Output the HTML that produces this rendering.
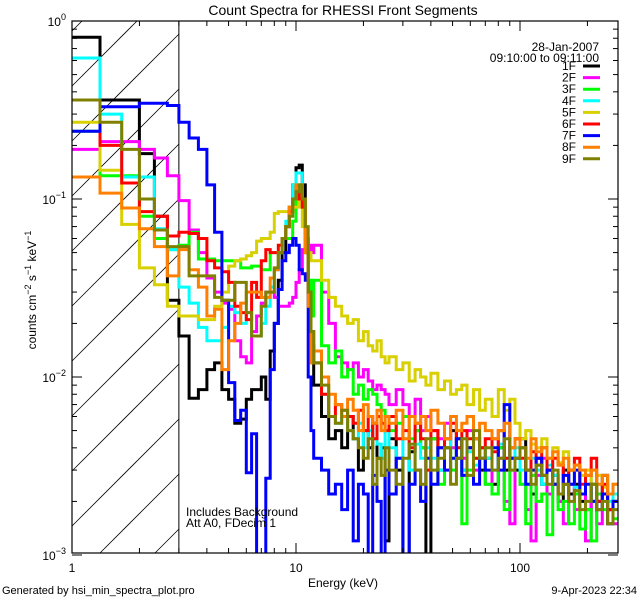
<!DOCTYPE html>
<html><head><meta charset="utf-8"><style>
html,body{margin:0;padding:0;background:#fff;width:640px;height:600px;overflow:hidden;}
svg{display:block;font-family:"Liberation Sans",sans-serif;}
</style></head><body>
<svg id="chart" width="640" height="600" viewBox="0 0 640 600" xmlns="http://www.w3.org/2000/svg">
<rect width="640" height="600" fill="#fff"/>
<defs><clipPath id="plotclip"><rect x="72" y="21" width="546" height="532"/></clipPath></defs>
<g id="hatch"></g>
<g id="series" clip-path="url(#plotclip)"></g>
<g id="axes"></g>
<text x="343" y="15" font-size="14" text-anchor="middle">Count Spectra for RHESSI Front Segments</text>
<text x="343" y="587" font-size="12" text-anchor="middle">Energy (keV)</text>
<text transform="translate(36,290) rotate(-90)" font-size="12" text-anchor="middle">counts cm<tspan dy="-5" font-size="9">−2</tspan><tspan dy="5"> s</tspan><tspan dy="-5" font-size="9">−1</tspan><tspan dy="5"> keV</tspan><tspan dy="-5" font-size="9">−1</tspan></text>
<text x="2" y="594" font-size="11">Generated by hsi_min_spectra_plot.pro</text>
<text x="637" y="594" font-size="11" text-anchor="end">9-Apr-2023 22:34</text>
<text x="186" y="516" font-size="12">Includes Background</text>
<text x="186" y="527" font-size="12">Att A0, FDecim 1</text>
<text x="599" y="51" font-size="12" text-anchor="end">28-Jan-2007</text>
<text x="599" y="62" font-size="12" text-anchor="end">09:10:00 to 09:11:00</text>
<g id="legend"></g>
</svg>
<script>
const NS="http://www.w3.org/2000/svg";
const seriesNames=["1F","2F","3F","4F","5F","6F","7F","8F","9F"];
const seriesColors=["#000000","#ff00ff","#00ff00","#00ffff","#d8d000","#ff0000","#0000ff","#ff8000","#808000"];
const highEdges=[12,13,14,15,16,17,18,19,20,21,22,23,24,25,26,28,30,32,34,36,38,40,43,46,49,52,55,58,62,66,70,75,80,85,90,95,100,106,112,118,125,132,140,148,156,165,175,185,196,208,220,233,246,260,275];
const xTickLabels=["1","10","100"];
const yTickExps=["0","−1","−2","−3"];
const s1F=[0.81,0.36,0.36,0.18,0.08,0.027,0.017,0.0076,0.0085,0.011,0.012,0.0085,0.0075,0.0055,0.0058,0.0075,0.0085,0.0085,0.01,0.0075,0.014,0.02,0.035,0.05,0.07,0.09,0.12,0.15,0.155,0.12,0.06,0.03,0.015,
0.009,0.006,0.0045,0.005,0.004,0.006,0.0045,0.003,0.005,0.004,0.0055,0.0035,0.004,0.0012,0.0045,0.003,0.001,0.0038,0.005,0.004,0.0009,0.0045,0.003,0.004,0.005,0.0035,0.003,0.004,0.0045,0.003,0.0035,0.0025,0.004,0.003,0.0035,0.003,0.0045,0.003,0.0022,0.0035,0.0025,0.003,0.0028,0.002,0.003,0.0022,0.0025,0.002,0.0018,0.0025,0.002,0.0028,0.0018,0.002];
const s2F=[0.19,0.21,0.21,0.19,0.17,0.135,0.098,0.067,0.05,0.036,0.03,0.026,0.024,0.016,0.013,0.012,0.018,0.022,0.026,0.03,0.03,0.028,0.025,0.025,0.025,0.026,0.028,0.034,0.04,0.052,0.054,0.055,0.05,
0.055,0.03,0.02,0.013,0.012,0.011,0.012,0.01,0.011,0.0095,0.0085,0.009,0.0085,0.008,0.007,0.0085,0.007,0.006,0.0075,0.005,0.006,0.005,0.0045,0.0055,0.004,0.0045,0.0035,0.005,0.003,0.004,0.0025,0.0045,0.0035,0.002,0.0015,0.0045,0.0025,0.0018,0.0012,0.0028,0.0035,0.0022,0.0025,0.002,0.0015,0.0025,0.0018,0.0022,0.0012,0.002,0.0015,0.0022,0.0018,0.0015];
const s3F=[0.24,0.135,0.135,0.08,0.06,0.052,0.055,0.065,0.046,0.046,0.045,0.045,0.045,0.045,0.041,0.041,0.042,0.042,0.04,0.04,0.05,0.05,0.05,0.06,0.06,0.06,0.075,0.1,0.12,0.09,0.05,0.035,0.022,
0.035,0.015,0.012,0.014,0.01,0.011,0.008,0.009,0.0075,0.0085,0.008,0.007,0.0065,0.006,0.005,0.0055,0.006,0.0045,0.005,0.004,0.0035,0.0045,0.0025,0.004,0.003,0.0045,0.0015,0.003,0.0035,0.004,0.0025,0.0022,0.004,0.0018,0.003,0.0035,0.0025,0.0015,0.0028,0.002,0.0022,0.0013,0.0025,0.0018,0.002,0.0015,0.0022,0.0014,0.0018,0.0012,0.0022,0.0018,0.0015,0.0016];
const s4F=[0.62,0.3,0.133,0.133,0.068,0.052,0.032,0.026,0.019,0.016,0.016,0.019,0.025,0.023,0.02,0.023,0.017,0.017,0.02,0.025,0.032,0.04,0.05,0.06,0.075,0.09,0.12,0.14,0.14,0.1,0.05,0.025,0.012,
0.012,0.008,0.006,0.0055,0.006,0.005,0.0045,0.0055,0.004,0.005,0.0045,0.0042,0.0035,0.005,0.004,0.0035,0.0045,0.003,0.0042,0.0035,0.004,0.0035,0.003,0.0045,0.0035,0.004,0.003,0.0038,0.0032,0.004,0.0035,0.003,0.0042,0.0035,0.003,0.004,0.003,0.0025,0.0035,0.003,0.0025,0.0032,0.0028,0.0022,0.0025,0.003,0.0024,0.0022,0.0028,0.002,0.0025,0.0022,0.002,0.0022];
const s5F=[0.27,0.145,0.072,0.041,0.033,0.025,0.022,0.022,0.021,0.021,0.025,0.03,0.042,0.045,0.046,0.048,0.05,0.058,0.06,0.06,0.065,0.083,0.085,0.085,0.085,0.085,0.09,0.09,0.1,0.07,0.055,0.05,0.045,
0.045,0.035,0.028,0.025,0.022,0.02,0.021,0.016,0.018,0.015,0.014,0.016,0.013,0.012,0.013,0.011,0.012,0.0095,0.011,0.01,0.009,0.0105,0.0085,0.0095,0.008,0.0085,0.009,0.007,0.0085,0.0065,0.0075,0.006,0.0085,0.0065,0.0075,0.0055,0.0045,0.005,0.0042,0.004,0.0045,0.0035,0.004,0.0033,0.0038,0.003,0.0032,0.0028,0.003,0.0025,0.0028,0.0024,0.0022,0.0025];
const s6F=[0.36,0.2,0.123,0.085,0.08,0.062,0.065,0.064,0.06,0.045,0.041,0.039,0.034,0.025,0.023,0.021,0.034,0.028,0.045,0.052,0.05,0.05,0.055,0.06,0.07,0.085,0.1,0.11,0.1,0.09,0.05,0.03,0.018,
0.012,0.008,0.006,0.007,0.0065,0.006,0.0055,0.0065,0.005,0.006,0.0045,0.006,0.0055,0.005,0.006,0.0045,0.005,0.004,0.0055,0.0045,0.003,0.005,0.004,0.0045,0.0055,0.004,0.005,0.0045,0.0035,0.004,0.0045,0.0038,0.005,0.0035,0.004,0.0045,0.0035,0.003,0.0038,0.0032,0.004,0.003,0.0035,0.0032,0.0025,0.003,0.0035,0.0025,0.0028,0.0035,0.002,0.0025,0.0018,0.002];
const s7F=[0.24,0.33,0.33,0.345,0.345,0.335,0.27,0.22,0.19,0.12,0.065,0.027,0.0093,0.0057,0.0065,0.0029,0.0048,0.0008,0.0008,0.0027,0.011,0.02,0.031,0.045,0.05,0.055,0.06,0.055,0.04,0.038,0.035,0.01,0.005,
0.0035,0.003,0.0022,0.0025,0.0018,0.003,0.0012,0.0025,0.0022,0.001,0.0028,0.002,0.0009,0.003,0.0022,0.0035,0.0009,0.0025,0.003,0.002,0.0035,0.0025,0.004,0.003,0.0035,0.0045,0.0028,0.004,0.0025,0.0035,0.003,0.004,0.003,0.007,0.0035,0.0035,0.004,0.0025,0.003,0.0035,0.0028,0.003,0.0025,0.0022,0.0028,0.0025,0.003,0.0022,0.0025,0.002,0.0018,0.0022,0.0015,0.002];
const s8F=[0.133,0.108,0.089,0.068,0.054,0.037,0.052,0.04,0.032,0.022,0.024,0.011,0.016,0.02,0.026,0.03,0.03,0.03,0.028,0.028,0.036,0.04,0.05,0.06,0.07,0.09,0.1,0.12,0.12,0.1,0.05,0.025,0.012,
0.014,0.01,0.008,0.007,0.006,0.0075,0.0065,0.005,0.007,0.006,0.0055,0.0065,0.005,0.006,0.0055,0.0065,0.0045,0.006,0.0055,0.006,0.005,0.0065,0.0055,0.0045,0.006,0.005,0.0055,0.006,0.0045,0.0055,0.005,0.0045,0.005,0.0055,0.004,0.0045,0.004,0.0035,0.0045,0.0038,0.004,0.0035,0.0038,0.0032,0.0035,0.003,0.0032,0.003,0.0028,0.003,0.0025,0.0028,0.0022,0.0025];
const s9F=[0.36,0.27,0.19,0.1,0.067,0.054,0.054,0.037,0.037,0.037,0.028,0.027,0.027,0.034,0.034,0.023,0.017,0.017,0.025,0.03,0.03,0.041,0.05,0.06,0.07,0.08,0.1,0.11,0.12,0.1,0.07,0.03,0.018,
0.012,0.009,0.006,0.0055,0.0065,0.005,0.0045,0.004,0.0035,0.0045,0.0025,0.0035,0.0028,0.004,0.003,0.0025,0.0035,0.0042,0.003,0.0025,0.0045,0.003,0.0035,0.004,0.0025,0.0035,0.0045,0.0028,0.005,0.0035,0.004,0.003,0.0035,0.0045,0.003,0.0035,0.004,0.003,0.0025,0.0032,0.0028,0.0025,0.003,0.0022,0.0025,0.002,0.0023,0.0018,0.002,0.0025,0.0018,0.002,0.0015,0.0018];
const seriesValues=[s1F,s2F,s3F,s4F,s5F,s6F,s7F,s8F,s9F];

const X0=72,X1=618,Y0=21,Y1=553;
const XDEC=224, YDEC=178;
function xs(e){return X0+XDEC*Math.log10(e);}
function ys(v){return Y0+YDEC*(-Math.log10(v));}
const edges=[];
for(let k=0;k<33;k++) edges.push(1+k/3);
highEdges.forEach(e=>edges.push(e));

const seriesG=document.getElementById('series');
seriesValues.forEach((vals,si)=>{
  let pts=[];
  for(let i=0;i<vals.length;i++){
    const y=Math.min(Y1+4,ys(vals[i])).toFixed(1);
    pts.push(xs(edges[i]).toFixed(1)+","+y);
    pts.push(xs(edges[i+1]).toFixed(1)+","+y);
  }
  const pl=document.createElementNS(NS,'polyline');
  pl.setAttribute('points',pts.join(' '));
  pl.setAttribute('fill','none');
  pl.setAttribute('stroke',seriesColors[si]);
  pl.setAttribute('stroke-width','3');
  
  
  seriesG.appendChild(pl);
});

const hg=document.getElementById('hatch');
const xb=xs(3);
for(let c=158-55*2;c<xb+Y1+60;c+=55){
  const xa=Math.max(X0,c-Y1), xe=Math.min(xb,c-Y0);
  if(xe<=xa) continue;
  const ln=document.createElementNS(NS,'line');
  ln.setAttribute('x1',xa);ln.setAttribute('y1',c-xa);
  ln.setAttribute('x2',xe);ln.setAttribute('y2',c-xe);
  ln.setAttribute('stroke','#000');ln.setAttribute('stroke-width','0.8');
  
  
  hg.appendChild(ln);
}
const vb=document.createElementNS(NS,'line');
vb.setAttribute('x1',xb);vb.setAttribute('x2',xb);vb.setAttribute('y1',Y0);vb.setAttribute('y2',Y1);
vb.setAttribute('stroke','#000');vb.setAttribute('stroke-width','1');


hg.appendChild(vb);

const ag=document.getElementById('axes');
function L(x1,y1,x2,y2,name){
  const l=document.createElementNS(NS,'line');
  l.setAttribute('x1',x1);l.setAttribute('y1',y1);l.setAttribute('x2',x2);l.setAttribute('y2',y2);
  l.setAttribute('stroke','#000');l.setAttribute('stroke-width','1');
  
  
  ag.appendChild(l);
}
const frame=document.createElementNS(NS,'rect');
frame.setAttribute('x',X0);frame.setAttribute('y',Y0);frame.setAttribute('width',X1-X0);frame.setAttribute('height',Y1-Y0);
frame.setAttribute('fill','none');frame.setAttribute('stroke','#000');frame.setAttribute('stroke-width','1.2');


ag.appendChild(frame);
for(let d=0;d<3;d++){
  for(let m=1;m<10;m++){
    const e=Math.pow(10,d)*m; const x=xs(e); if(x>X1) break;
    const len=m===1?10:5;
    L(x,Y1,x,Y1-len,'x-tick');
    L(x,Y0,x,Y0+len,'x-tick-top');
  }
}
xTickLabels.forEach((lab,i)=>{
  const t=document.createElementNS(NS,'text');
  t.setAttribute('x',xs(Math.pow(10,i)));t.setAttribute('y',572);
  t.setAttribute('font-size','12');t.setAttribute('text-anchor','middle');
  t.textContent=lab;
  
  
  ag.appendChild(t);
});
for(let d=-3;d<0;d++){
  for(let m=1;m<10;m++){
    const v=Math.pow(10,d)*m; const y=ys(v);
    const len=m===1?10:5;
    L(X0,y,X0+len,y,'y-tick');
    L(X1,y,X1-len,y,'y-tick-right');
  }
}
yTickExps.forEach((ex,i)=>{
  const t=document.createElementNS(NS,'text');
  t.setAttribute('x',66);t.setAttribute('y',ys(Math.pow(10,-i))+5);
  t.setAttribute('font-size','12');t.setAttribute('text-anchor','end');
  t.innerHTML='10<tspan dy="-6" font-size="9">'+ex+'</tspan>';
  
  
  ag.appendChild(t);
});

const lg=document.getElementById('legend');
seriesNames.forEach((nm,i)=>{
  const y=66+i*11.6;
  const g=document.createElementNS(NS,'g');
  
  
  const t=document.createElementNS(NS,'text');
  t.setAttribute('x',576);t.setAttribute('y',y+4);t.setAttribute('font-size','12');t.setAttribute('text-anchor','end');
  t.textContent=nm;
  const l=document.createElementNS(NS,'line');
  l.setAttribute('x1',583);l.setAttribute('x2',600);l.setAttribute('y1',y);l.setAttribute('y2',y);
  l.setAttribute('stroke',seriesColors[i]);l.setAttribute('stroke-width','3');
  g.appendChild(t);g.appendChild(l);lg.appendChild(g);
});
</script>
</body></html>
